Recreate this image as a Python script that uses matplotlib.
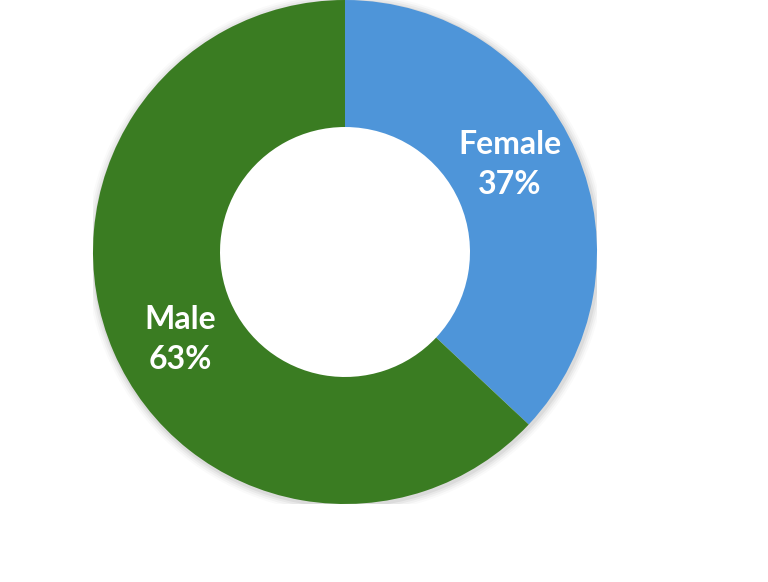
import numpy as np
import matplotlib.pyplot as plt
from matplotlib.patches import Wedge

labels = ["Female", "Male"]
shares = [37, 63]
colors = ["#4E95D9", "#3A7C22"]

fig = plt.figure(figsize=(7.68, 5.82), dpi=100)
ax = fig.add_axes([93 / 768, 78 / 582, 504 / 768, 504 / 582])

# soft shadow outside the ring
for i, a in enumerate([0.05, 0.04, 0.03, 0.02]):
    r = 1.0 + 0.008 * (i + 1)
    ax.add_patch(Wedge((0.004, -0.006), r, 0, 360, width=0.1, color="black",
                       alpha=a, lw=0, zorder=0))

wedges, _ = ax.pie(shares, colors=colors, startangle=90, counterclock=False,
                   radius=1.0, wedgeprops=dict(width=0.504, edgecolor="none"))
for w in wedges:
    w.set_zorder(2)

# labels sit a little counter-clockwise of the wedge middle, as in the original
for w, lab, s in zip(wedges, labels, shares):
    ang = np.deg2rad((w.theta1 + w.theta2) / 2 + 4.5)
    r = 0.74
    ax.text(r * np.cos(ang), r * np.sin(ang), f"{lab}\n{s}%", ha="center", va="center",
            color="white", fontsize=23, fontweight="bold", family="Lato",
            linespacing=1.45, zorder=3)

ax.set_xlim(-1, 1)
ax.set_ylim(-1, 1)
ax.set_aspect("equal")
ax.axis("off")

fig.savefig("out.png", dpi=100)
